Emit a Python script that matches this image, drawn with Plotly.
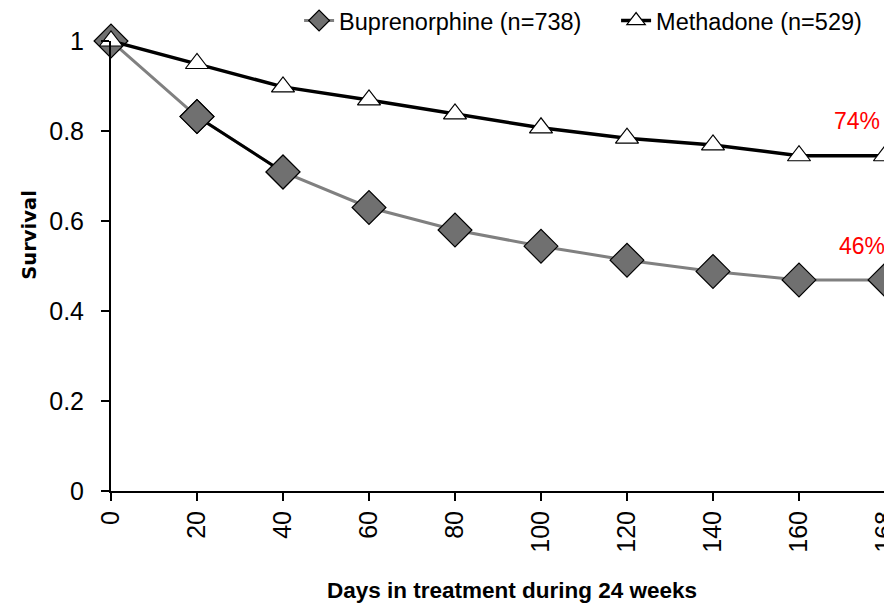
import plotly.graph_objects as go

# data
days = ["0", "20", "40", "60", "80", "100", "120", "140", "160", "168"]
bup_survival = [1.0, 0.832, 0.709, 0.630, 0.580, 0.544, 0.513, 0.488, 0.469, 0.469]
met_survival = [1.0, 0.950, 0.898, 0.869, 0.838, 0.807, 0.784, 0.769, 0.745, 0.745]
bup_name = "Buprenorphine (n=738)"
met_name = "Methadone (n=529)"
y_ticks = [0, 0.2, 0.4, 0.6, 0.8, 1]
y_tick_text = ["0", "0.2", "0.4", "0.6", "0.8", "1"]
end_labels = ["74%", "46%"]
x_title = "Days in treatment during 24 weeks"
y_title = "Survival"

FONT = "Liberation Sans, Arial"
last = len(days) - 1

fig = go.Figure()

# buprenorphine line
fig.add_trace(go.Scatter(
    x=days, y=bup_survival, mode="lines+markers", name=bup_name,
    line=dict(color="#808080", width=3),
    marker=dict(symbol="diamond", size=26, color="#707070",
                line=dict(color="black", width=1.2)),
    cliponaxis=False,
))
# the 20-40 segment of that line is drawn black in the original
fig.add_trace(go.Scatter(
    x=days[1:3], y=bup_survival[1:3], mode="lines", showlegend=False,
    line=dict(color="black", width=3), hoverinfo="skip",
))
fig.add_trace(go.Scatter(
    x=days[1:3], y=bup_survival[1:3], mode="markers", showlegend=False,
    marker=dict(symbol="diamond", size=26, color="#707070",
                line=dict(color="black", width=1.2)),
    cliponaxis=False, hoverinfo="skip",
))

# methadone line
fig.add_trace(go.Scatter(
    x=days, y=met_survival, mode="lines+markers", name=met_name,
    line=dict(color="black", width=3.5),
    marker=dict(symbol="triangle-up", size=20, color="white",
                line=dict(color="black", width=1.2)),
    cliponaxis=False,
))

fig.add_annotation(x=last, y=met_survival[-1], text=end_labels[0], showarrow=False,
                   xanchor="center", yanchor="middle", xshift=-28, yshift=35,
                   font=dict(family=FONT, size=23, color="red"))
fig.add_annotation(x=last, y=bup_survival[-1], text=end_labels[1], showarrow=False,
                   xanchor="center", yanchor="middle", xshift=-23, yshift=34,
                   font=dict(family=FONT, size=23, color="red"))

# axis titles as annotations, they sit a bit off centre in the original
fig.add_annotation(xref="paper", yref="paper", x=0.518, y=-0.22, text="<b>" + x_title + "</b>",
                   showarrow=False, xanchor="center", yanchor="middle",
                   font=dict(family=FONT, size=22.5))
fig.add_annotation(xref="paper", yref="paper", x=-0.105, y=0.569, text="<b>" + y_title + "</b>",
                   showarrow=False, xanchor="center", yanchor="middle", textangle=-90,
                   font=dict(family="DejaVu Sans, Arial", size=19.5))

# the page body has an 8px margin, so the margins below allow for it
fig.update_layout(
    width=892, height=609,
    margin=dict(l=103, r=15, t=33, b=126, autoexpand=False),
    plot_bgcolor="white", paper_bgcolor="white",
    font=dict(family=FONT, size=24, color="black"),
    showlegend=True,
    legend=dict(orientation="h", x=0.243, y=1.045, xanchor="left", yanchor="middle",
                font=dict(family=FONT, size=23.5), entrywidth=272,
                bgcolor="rgba(0,0,0,0)"),
    xaxis=dict(
        type="category", range=[0, 9],
        showline=True, linecolor="black", linewidth=2,
        ticks="outside", ticklen=8, tickcolor="black", tickwidth=1.5,
        tickangle=-90, showgrid=False, zeroline=False,
        tickfont=dict(family=FONT, size=25),
    ),
    yaxis=dict(
        range=[0, 1], tickvals=y_ticks, ticktext=y_tick_text,
        showline=True, linecolor="black", linewidth=2,
        ticks="outside", ticklen=8, tickcolor="black", tickwidth=1.5,
        ticklabelstandoff=12,
        showgrid=False, zeroline=False,
        tickfont=dict(family=FONT, size=25),
    ),
)

fig.write_html("out.html")
